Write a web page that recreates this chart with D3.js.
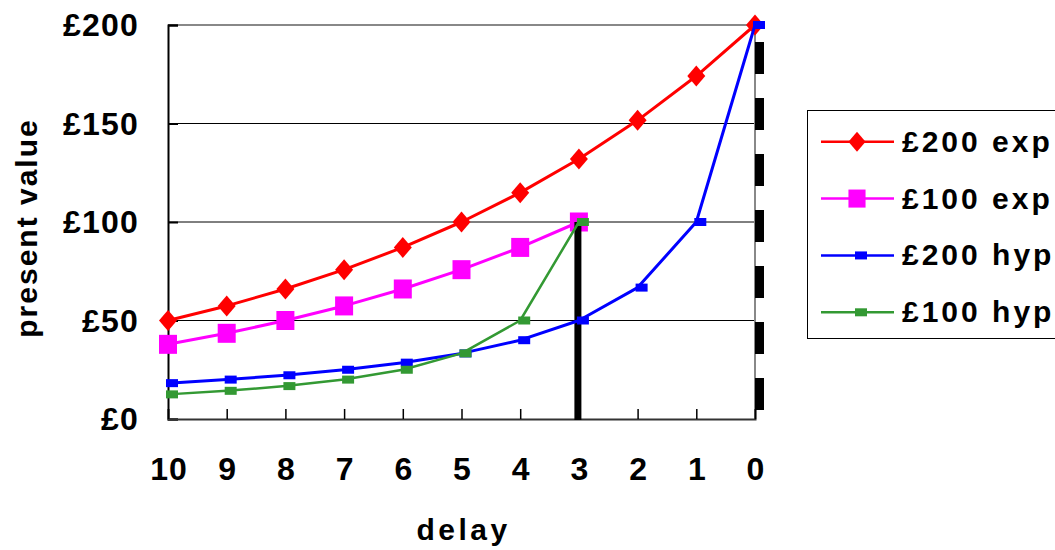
<!DOCTYPE html>
<html>
<head>
<meta charset="utf-8">
<script src="https://cdn.jsdelivr.net/npm/d3@7"></script>
<style>
  html, body { margin: 0; padding: 0; background: #fff; }
  svg { display: block; }
  text { font-family: "Liberation Sans", Arial, sans-serif; font-weight: bold; fill: #000; }
</style>
</head>
<body>
<svg id="chart" width="1055" height="550"></svg>
<script>
// Present value of a delayed reward: exponential vs hyperbolic discounting
const delays = [10, 9, 8, 7, 6, 5, 4, 3, 2, 1, 0];
const exp200 = [50.0, 57.4, 66.0, 75.8, 87.1, 100.0, 114.9, 132.0, 151.6, 174.1, 200.0];
const exp100 = [37.9, 43.5, 50.0, 57.4, 66.0, 75.8, 87.1, 100.0, null, null, null];
const hyp200 = [18.2, 20.0, 22.2, 25.0, 28.6, 33.3, 40.0, 50.0, 66.7, 100.0, 200.0];
const hyp100 = [12.5, 14.3, 16.7, 20.0, 25.0, 33.3, 50.0, 100.0, null, null, null];
const seriesNames = ["£200 exp", "£100 exp", "£200 hyp", "£100 hyp"];
const yTicks = [0, 50, 100, 150, 200];
// Moments at which each reward becomes available
const choiceDelays = [3, 0];
const choiceValues = [100, 200];

const svg = d3.select("#chart");
const margin = { left: 168, right: 755, top: 25, bottom: 419 };

const x = d3.scalePoint().domain(delays).range([margin.left, margin.right]);
const y = d3.scaleLinear().domain([0, 200]).range([margin.bottom, margin.top]);

const series = [
  { name: seriesNames[0], values: exp200, color: "#ff0000", width: 3, marker: "diamond" },
  { name: seriesNames[1], values: exp100, color: "#ff00ff", width: 3, marker: "square" },
  { name: seriesNames[2], values: hyp200, color: "#0000ff", width: 3, marker: "rect" },
  { name: seriesNames[3], values: hyp100, color: "#339933", width: 2.5, marker: "rect" }
];

// Gridlines
svg.append("g")
  .selectAll("line")
  .data(yTicks.filter(v => v > 0 && v < 200))
  .join("line")
  .attr("x1", margin.left).attr("x2", margin.right)
  .attr("y1", d => y(d)).attr("y2", d => y(d))
  .attr("stroke", "#000").attr("stroke-width", 1);

// Plot frame: top and right in grey
svg.append("line")
  .attr("x1", margin.left).attr("x2", margin.right)
  .attr("y1", y(200)).attr("y2", y(200))
  .attr("stroke", "#888").attr("stroke-width", 2);
svg.append("line")
  .attr("x1", margin.right).attr("x2", margin.right)
  .attr("y1", y(200)).attr("y2", y(0))
  .attr("stroke", "#888").attr("stroke-width", 2);

// Y axis (ticks pointing inward)
const yAxis = svg.append("g")
  .attr("transform", `translate(${margin.left},0)`)
  .call(d3.axisRight(y).tickValues(yTicks).tickSize(10).tickFormat(""));
yAxis.select(".domain").attr("stroke", "#000").attr("stroke-width", 2);
yAxis.selectAll(".tick line").attr("stroke", "#000").attr("stroke-width", 2);

// X axis (ticks pointing up)
const xAxis = svg.append("g")
  .attr("transform", `translate(0,${margin.bottom})`)
  .call(d3.axisTop(x).tickSize(10).tickFormat(""));
xAxis.select(".domain").attr("stroke", "#333").attr("stroke-width", 2);
xAxis.selectAll(".tick line").attr("stroke", "#000").attr("stroke-width", 1.5);

// Y tick labels
svg.append("g")
  .selectAll("text")
  .data(yTicks)
  .join("text")
  .attr("x", 139)
  .attr("y", d => y(d) + 11)
  .attr("text-anchor", "end")
  .style("font-size", "32px")
  .style("letter-spacing", "1.2px")
  .text(d => "£" + d);

// X tick labels
svg.append("g")
  .selectAll("text")
  .data(delays)
  .join("text")
  .attr("x", d => x(d) + 1)
  .attr("y", 480)
  .attr("text-anchor", "middle")
  .style("font-size", "32px")
  .style("letter-spacing", "1px")
  .text(d => d);

// Axis titles
svg.append("text")
  .attr("x", (margin.left + margin.right) / 2 + 2)
  .attr("y", 540)
  .attr("text-anchor", "middle")
  .style("font-size", "30px")
  .style("letter-spacing", "3.5px")
  .text("delay");

svg.append("text")
  .attr("transform", `translate(37,${(margin.top + margin.bottom) / 2 + 6}) rotate(-90)`)
  .attr("text-anchor", "middle")
  .style("font-size", "30px")
  .style("letter-spacing", "2px")
  .text("present value");

// Marker shapes
function drawMarker(g, kind, cx, cy, color, scale) {
  const s = scale || 1;
  if (kind === "diamond") {
    const hw = 9 * s, hh = 10.5 * s;
    g.append("path")
      .attr("d", `M${cx},${cy - hh}L${cx + hw},${cy}L${cx},${cy + hh}L${cx - hw},${cy}Z`)
      .attr("fill", color);
  } else if (kind === "square") {
    const w = 18 * s, h = 19 * s;
    g.append("rect")
      .attr("x", cx - w / 2).attr("y", cy - h / 2)
      .attr("width", w).attr("height", h)
      .attr("fill", color);
  } else {
    const w = 12, h = 8;
    g.append("rect")
      .attr("x", cx - w / 2 + 4).attr("y", cy - h / 2)
      .attr("width", w).attr("height", h)
      .attr("fill", color);
  }
}

const line = d3.line()
  .defined(d => d.v !== null)
  .x(d => x(d.delay))
  .y(d => y(d.v));

function drawSeries(s) {
  const pts = delays.map((dl, i) => ({ delay: dl, v: s.values[i] }));
  const g = svg.append("g");
  g.append("path")
    .datum(pts)
    .attr("d", line)
    .attr("fill", "none")
    .attr("stroke", s.color)
    .attr("stroke-width", s.width)
    .attr("stroke-linejoin", "round");
  pts.filter(p => p.v !== null).forEach(p => {
    drawMarker(g, s.marker, x(p.delay), y(p.v), s.color);
  });
}

drawSeries(series[0]);
drawSeries(series[1]);

// Availability lines for each reward
svg.append("line")
  .attr("x1", x(choiceDelays[0]) - 1).attr("x2", x(choiceDelays[0]) - 1)
  .attr("y1", y(0) + 1).attr("y2", y(choiceValues[0]))
  .attr("stroke", "#000").attr("stroke-width", 7);
svg.append("line")
  .attr("x1", x(choiceDelays[1]) + 4.5).attr("x2", x(choiceDelays[1]) + 4.5)
  .attr("y1", y(0)).attr("y2", y(choiceValues[1]))
  .attr("stroke", "#000").attr("stroke-width", 9)
  .attr("stroke-dasharray", "32,24")
  .attr("stroke-dashoffset", 47);

drawSeries(series[2]);
drawSeries(series[3]);

// Legend
const legend = svg.append("g");
legend.append("rect")
  .attr("x", 807.5).attr("y", 110.5)
  .attr("width", 260).attr("height", 228)
  .attr("fill", "#fff")
  .attr("stroke", "#000").attr("stroke-width", 1);

const legendRowY = d3.scalePoint().domain(seriesNames).range([141.7, 312.3]);
series.forEach(s => {
  const ly = legendRowY(s.name);
  legend.append("line")
    .attr("x1", 821).attr("x2", 894)
    .attr("y1", ly).attr("y2", ly)
    .attr("stroke", s.color).attr("stroke-width", 2.5);
  drawMarker(legend, s.marker, 857, ly, s.color, 0.95);
  legend.append("text")
    .attr("x", 902).attr("y", ly + 10)
    .style("font-size", "30px")
    .style("letter-spacing", "3px")
    .text(s.name);
});
</script>
</body>
</html>
